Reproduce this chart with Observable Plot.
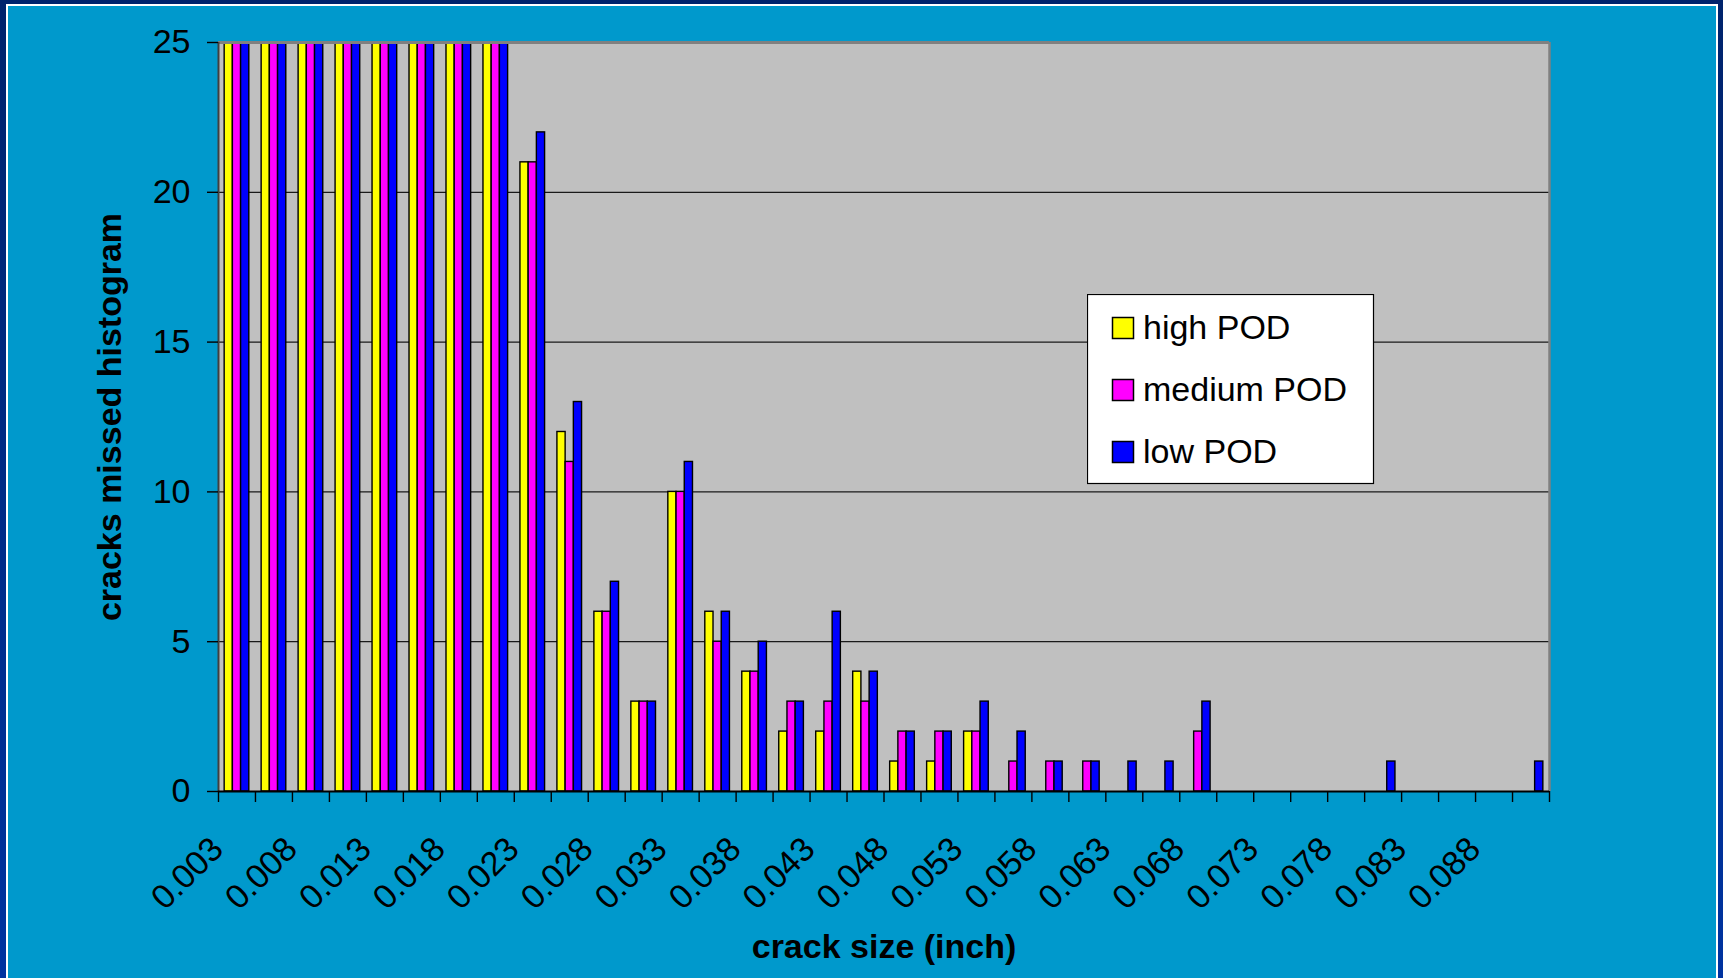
<!DOCTYPE html>
<html>
<head>
<meta charset="utf-8">
<script src="https://cdn.jsdelivr.net/npm/d3@7"></script>
<script src="https://cdn.jsdelivr.net/npm/@observablehq/plot@0.6"></script>
<style>
  html, body { margin: 0; padding: 0; width: 1723px; height: 978px; overflow: hidden;
    background: linear-gradient(#00236c, #0033a0); }
  #panel { position: absolute; left: 6px; top: 4px; width: 1708px; height: 990px;
    background: #0099CC; border: 2px solid #ffffff; border-bottom: none; }
  #chart { position: absolute; left: 0; top: 0; }
  #legend { position: absolute; left: 1087px; top: 294px; }
</style>
</head>
<body>
<div id="panel"></div>
<div id="chart"></div>
<div id="legend"></div>
<script>
// ---- data ----
const categories = ["0.003","0.0055","0.008","0.0105","0.013","0.0155","0.018","0.0205",
  "0.023","0.0255","0.028","0.0305","0.033","0.0355","0.038","0.0405","0.043","0.0455",
  "0.048","0.0505","0.053","0.0555","0.058","0.0605","0.063","0.0655","0.068","0.0705",
  "0.073","0.0755","0.078","0.0805","0.083","0.0855","0.088","0.0905"];
const xTickLabels = ["0.003","0.008","0.013","0.018","0.023","0.028","0.033","0.038","0.043",
  "0.048","0.053","0.058","0.063","0.068","0.073","0.078","0.083","0.088"];
const seriesNames = ["high POD","medium POD","low POD"];
const seriesColors = ["#FFFF00","#FF00FF","#0000FF"];
// first eight bins run off the top of the 0–25 axis (values estimated, clipped)
const highPOD   = [40,40,40,40,40,40,40,40, 21,12,6,3,10,6,4,2,2,4,1,1,2, 0,0,0,0,0,0,0,0,0,0,0,0,0,0,0];
const mediumPOD = [40,40,40,40,40,40,40,40, 21,11,6,3,10,5,4,3,3,3,2,2,2, 1,1,1,0,0,2,0,0,0,0,0,0,0,0,0];
const lowPOD    = [40,40,40,40,40,40,40,40, 22,13,7,3,11,6,5,3,6,4,2,2,3, 2,1,1,1,1,3,0,0,0,0,1,0,0,0,1];
const yTicks = [0,5,10,15,20,25];
const yTitle = "cracks missed histogram";
const xTitle = "crack size (inch)";

// ---- layout ----
const W = 1723, H = 978, mL = 218, mR = 174, mT = 42, mB = 187;
const bw = (W - mL - mR) / categories.length;
const barW = bw / 4.5;            // Excel gap width 150%
const gapHalf = barW * 0.75;
const series = [highPOD, mediumPOD, lowPOD];
const font = "'Liberation Sans', Arial, sans-serif";

const barMarks = series.map((vals, s) =>
  Plot.barY(categories.map((c, i) => ({c, v: vals[i]})), {
    x: "c", y: "v", fill: seriesColors[s], stroke: "#000", strokeWidth: 1.4,
    insetLeft: gapHalf + s * barW, insetRight: gapHalf + (2 - s) * barW, clip: true
  })
);

const chart = Plot.plot({
  width: W, height: H,
  marginLeft: mL, marginRight: mR, marginTop: mT, marginBottom: mB,
  style: {background: "transparent", fontFamily: font, fontSize: "34px", color: "#000", overflow: "visible"},
  x: {type: "band", domain: categories, padding: 0},
  y: {domain: [0, 25]},
  marks: [
    Plot.frame({fill: "#C0C0C0", stroke: null}),
    Plot.gridY(yTicks.filter(t => t > 0 && t < 25), {stroke: "#1a1a1a", strokeOpacity: 1, strokeWidth: 1.3}),
    ...barMarks,
    Plot.ruleY([25], {stroke: "#808080", strokeWidth: 3}),
    Plot.ruleX([categories[categories.length - 1]], {dx: bw / 2, stroke: "#808080", strokeWidth: 2.5}),
    Plot.ruleX([categories[0]], {dx: -bw / 2, stroke: "#404040", strokeWidth: 2}),
    Plot.ruleY([0], {stroke: "#000", strokeWidth: 2}),
    Plot.axisY(yTicks, {tickSize: 11, tickPadding: 17, fontSize: 34, strokeWidth: 1.4, label: null}),
    Plot.axisX(categories, {tickSize: 11, tickFormat: () => "", dx: -bw / 2, strokeWidth: 1.4, label: null}),
    Plot.axisX([categories[categories.length - 1]], {tickSize: 11, tickFormat: () => "", dx: bw / 2, strokeWidth: 1.4, label: null}),
    Plot.axisX(xTickLabels, {tickSize: 0, tickPadding: 52, tickRotate: -45, fontSize: 34, dx: -bw / 2 - 1, label: null}),
    Plot.text([yTitle], {text: d => d, frameAnchor: "left", dx: -108, rotate: -90, textAnchor: "middle", fontSize: 34, fontWeight: "bold"}),
    Plot.text([xTitle], {text: d => d, frameAnchor: "bottom", dy: 166, textAnchor: "middle", fontSize: 34, fontWeight: "bold"})
  ]
});
document.getElementById("chart").appendChild(chart);

// ---- legend ----
const lw = 286, lh = 189;
const leg = d3.select("#legend").append("svg").attr("width", lw + 2).attr("height", lh + 2);
leg.append("rect").attr("x", 0.5).attr("y", 0.5).attr("width", lw).attr("height", lh)
  .attr("fill", "#fff").attr("stroke", "#000").attr("stroke-width", 1.2);
seriesNames.forEach((name, i) => {
  leg.append("rect").attr("x", 25.5).attr("y", 23.5 + 62 * i).attr("width", 21).attr("height", 21)
    .attr("fill", seriesColors[i]).attr("stroke", "#000").attr("stroke-width", 1.5);
  leg.append("text").attr("x", 56).attr("y", 45 + 62 * i).attr("font-family", font)
    .attr("font-size", 34).attr("fill", "#000").text(name);
});
</script>
</body>
</html>
